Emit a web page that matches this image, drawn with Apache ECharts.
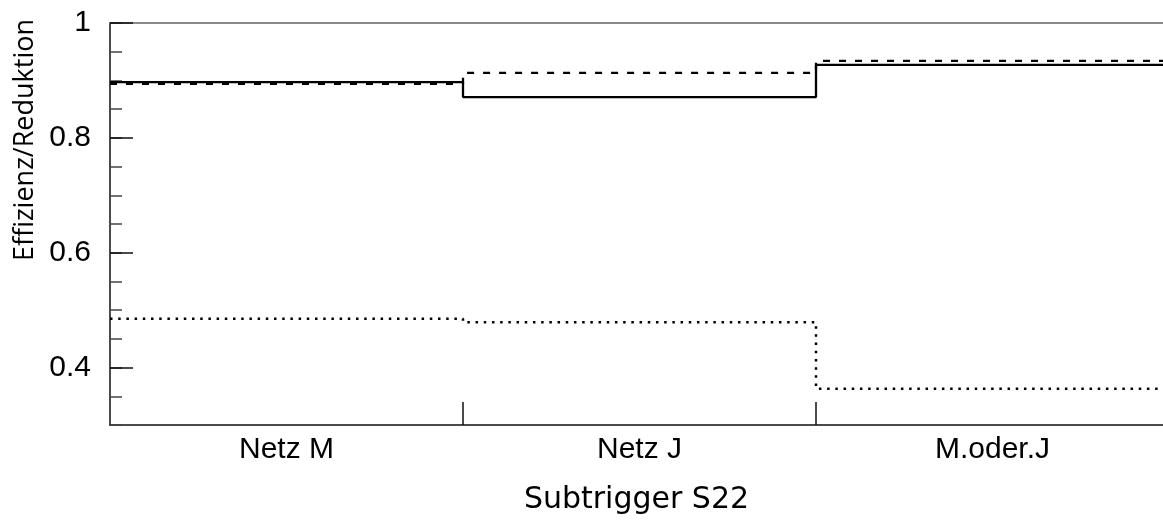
<!DOCTYPE html>
<html>
<head>
<meta charset="utf-8">
<script src="https://cdn.jsdelivr.net/npm/echarts@6/dist/echarts.min.js"></script>
<style>
  html, body { margin: 0; padding: 0; background: #fff; }
  #chart { width: 1163px; height: 526px; }
</style>
</head>
<body>
<div id="chart"></div>
<script>
// Subtrigger S22: efficiency / reduction per net selection
const categories = ['Netz M', 'Netz J', 'M.oder.J'];
const solidValues = [0.897, 0.871, 0.927];
const dashedValues = [0.894, 0.913, 0.934];
const dottedValues = [0.485, 0.479, 0.363];
const yTickValues = [0.4, 0.6, 0.8, 1.0];
const yTickLabels = ['0.4', '0.6', '0.8', '1'];

// one histogram bin per category: step line from bin edge to bin edge
function binSteps(values) {
  const pts = values.map((v, i) => [i, v]);
  pts.push([values.length, values[values.length - 1]]);
  return pts;
}

// the last bin runs slightly past the right edge of the frame
const xVisibleMax = 2.983;

const chart = echarts.init(document.getElementById('chart'));
const tickFont = { fontFamily: 'Liberation Sans', fontSize: 30, color: '#000' };

chart.setOption({
  animation: false,
  grid: { left: 110, top: 23, bottom: 101, right: 0, containLabel: false },
  xAxis: [
    {
      type: 'value', min: 0, max: xVisibleMax, position: 'bottom',
      axisLine: { show: true, lineStyle: { color: '#111', width: 1.5 } },
      axisTick: { show: true, inside: true, length: 23, customValues: [1, 2],
                  lineStyle: { color: '#111', width: 1.5 } },
      axisLabel: Object.assign({ margin: 10,
        customValues: categories.map((c, i) => i + 0.5),
        formatter: v => categories[Math.floor(v)] }, tickFont),
      splitLine: { show: false },
      name: 'Subtrigger S22', nameLocation: 'middle', nameGap: 60,
      nameTextStyle: { fontFamily: 'DejaVu Sans', fontSize: 30, color: '#000' }
    },
    {
      type: 'value', min: 0, max: xVisibleMax, position: 'top',
      axisLine: { show: true, lineStyle: { color: '#666', width: 1.5 } },
      axisTick: { show: false }, axisLabel: { show: false }, splitLine: { show: false }
    }
  ],
  yAxis: [
    {
      // minor ticks every 0.05
      type: 'value', min: 0.3, max: 1.0, interval: 0.05, position: 'left',
      axisLine: { show: true, lineStyle: { color: '#111', width: 1.5 } },
      axisTick: { show: true, inside: true, length: 12, lineStyle: { color: '#444', width: 1.5 } },
      axisLabel: { show: false }, splitLine: { show: false }
    },
    {
      // major ticks with labels
      type: 'value', min: 0.3, max: 1.0, position: 'left',
      axisLine: { show: false },
      axisTick: { show: true, inside: true, length: 23, customValues: yTickValues,
                  lineStyle: { color: '#111', width: 1.5 } },
      axisLabel: Object.assign({ margin: 19, customValues: yTickValues,
        formatter: v => yTickLabels[yTickValues.findIndex(t => Math.abs(t - v) < 1e-6)] }, tickFont),
      splitLine: { show: false }
    }
  ],
  graphic: [{
    type: 'text', x: 25, y: 140, rotation: Math.PI / 2,
    style: { text: 'Effizienz/Reduktion', fontFamily: 'Open Sans', fontSize: 27,
             fill: '#000', align: 'center', verticalAlign: 'middle' }
  }],
  series: [
    {
      type: 'line', step: 'end', xAxisIndex: 0, yAxisIndex: 0, symbol: 'none',
      data: binSteps(solidValues), lineStyle: { color: '#000', width: 2.3, type: 'solid' }
    },
    {
      type: 'line', step: 'end', xAxisIndex: 0, yAxisIndex: 0, symbol: 'none',
      data: binSteps(dashedValues), lineStyle: { color: '#000', width: 2.3, type: [7, 9] }
    },
    {
      type: 'line', step: 'end', xAxisIndex: 0, yAxisIndex: 0, symbol: 'none',
      data: binSteps(dottedValues), lineStyle: { color: '#000', width: 2.5, type: [2.5, 5.7] }
    }
  ]
});
</script>
</body>
</html>
